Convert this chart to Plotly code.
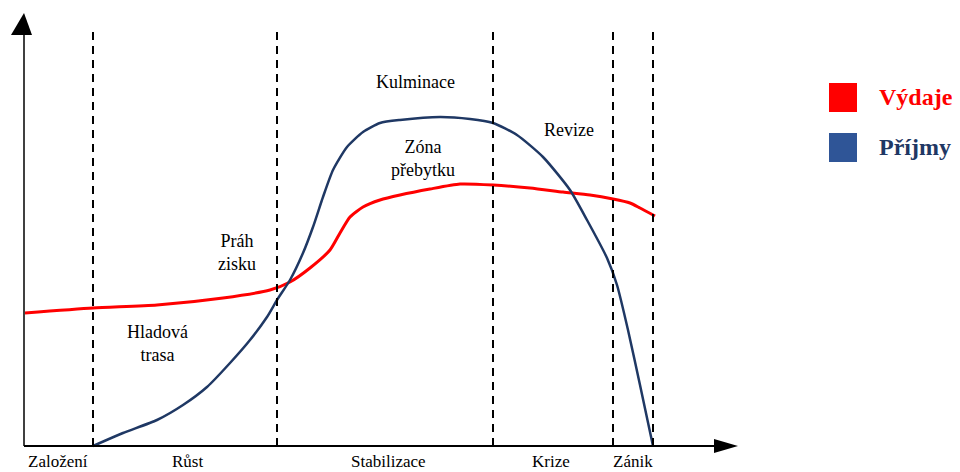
import plotly.graph_objects as go

# ---- data (time units along x, value along y; origin at the axes corner) ----
phase_bounds = [69, 253, 469, 589, 629]
phase_labels = ["Založení", "Růst", "Stabilizace", "Krize", "Zánik"]
phase_label_x = [34, 163, 364, 527, 609]

vydaje_t = [1, 69, 133, 199, 246, 266, 286, 306, 316, 326, 339, 356, 376, 406, 436, 469,
            506, 539, 566, 589, 606, 616, 631]
vydaje_v = [133, 138, 141, 148, 156, 164, 178, 196, 213, 229, 239, 246, 251, 257, 262, 261,
            258, 254, 251, 247, 243, 238, 230]

prijmy_t = [69, 99, 133, 159, 183, 206, 226, 243, 253, 266, 279, 289, 299, 309, 323, 339,
            356, 376, 416, 446, 469, 493, 519, 546, 563, 583, 593, 604, 616, 629]
prijmy_v = [0, 13, 26, 41, 59, 83, 106, 129, 146, 166, 193, 219, 249, 276, 299, 314,
            323, 326, 329, 327, 323, 311, 289, 256, 226, 188, 161, 116, 61, 0]

series_names = ["Výdaje", "Příjmy"]
line_colors = ["#FF0000", "#1F3864"]
legend_colors = ["#FF0000", "#2F5597"]
legend_text_colors = ["#FF0000", "#1F3864"]

notes = [("Kulminace", 391, 364), ("Zóna<br>přebytku", 399, 288), ("Revize", 545, 316),
         ("Práh<br>zisku", 213, 194), ("Hladová<br>trasa", 133, 103)]

FONT = "Liberation Serif"

fig = go.Figure()
fig.add_trace(go.Scatter(x=vydaje_t, y=vydaje_v, mode="lines", name=series_names[0],
                         line=dict(color=line_colors[0], width=3, shape="spline", smoothing=0.6),
                         showlegend=False, hoverinfo="skip"))
fig.add_trace(go.Scatter(x=prijmy_t, y=prijmy_v, mode="lines", name=series_names[1],
                         line=dict(color=line_colors[1], width=2.5, shape="spline", smoothing=0.6),
                         showlegend=False, hoverinfo="skip"))

shapes = []
# dashed phase boundaries
for b in phase_bounds:
    shapes.append(dict(type="line", xref="x", yref="y", x0=b, x1=b, y0=0, y1=416,
                       line=dict(color="black", width=2, dash="8px,6px")))
# axes
shapes.append(dict(type="line", xref="x", yref="y", x0=0, x1=0, y0=0, y1=412,
                   line=dict(color="#404040", width=2)))
shapes.append(dict(type="line", xref="x", yref="y", x0=0, x1=692, y0=0, y1=0,
                   line=dict(color="black", width=2)))
shapes.append(dict(type="path", xref="x", yref="y",
                   path="M -13,411 L 8,411 L 0,433 Z", fillcolor="black", line=dict(width=0)))
shapes.append(dict(type="path", xref="x", yref="y",
                   path="M 690,7 L 690,-7 L 714,0 Z", fillcolor="black", line=dict(width=0)))

annotations = []
for lab, lx in zip(phase_labels, phase_label_x):
    annotations.append(dict(x=lx, y=-26, xref="x", yref="y", yanchor="bottom", text=lab,
                            showarrow=False, borderpad=0,
                            font=dict(family=FONT, size=17, color="black")))
for txt, nx, ny in notes:
    annotations.append(dict(x=nx, y=ny, xref="x", yref="y", text=txt, showarrow=False,
                            font=dict(family=FONT, size=18, color="black")))

# legend (manual)
for i, (nm, col, tcol) in enumerate(zip(series_names, legend_colors, legend_text_colors)):
    y0 = 363 - i * 50
    shapes.append(dict(type="rect", xref="x", yref="y", x0=805, x1=833, y0=y0 - 29, y1=y0,
                       fillcolor=col, line=dict(width=0)))
    annotations.append(dict(x=854, y=y0 - 14, xref="x", yref="y", text="<b>" + nm + "</b>",
                            showarrow=False, xanchor="left", borderpad=0,
                            font=dict(family=FONT, size=24, color=tcol)))

# page body has an 8px margin: figure spans page pixels 8..960 x 8..472
fig.update_layout(
    width=952, height=464, margin=dict(l=0, r=0, t=0, b=0),
    paper_bgcolor="white", plot_bgcolor="white",
    xaxis=dict(range=[-16, 936], visible=False, fixedrange=True),
    yaxis=dict(range=[-26, 438], visible=False, fixedrange=True),
    shapes=shapes, annotations=annotations, showlegend=False,
)
fig.write_html("out.html")
